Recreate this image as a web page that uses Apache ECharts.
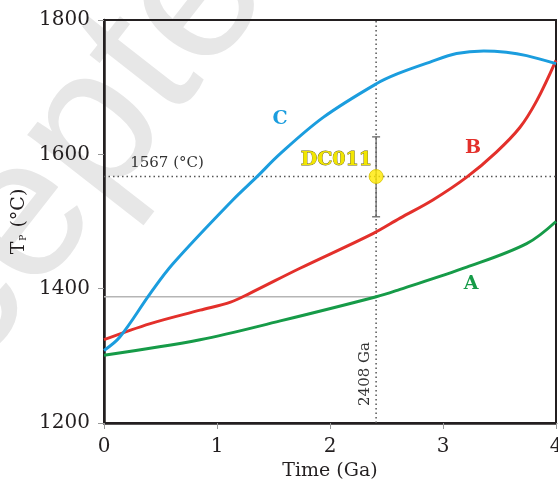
<!DOCTYPE html>
<html>
<head>
<meta charset="utf-8">
<script src="https://cdn.jsdelivr.net/npm/echarts@6/dist/echarts.min.js"></script>
<style>
html,body{margin:0;padding:0;background:#fff;}
#chart{width:558px;height:481px;}
</style>
</head>
<body>
<div id="chart"></div>
<script>
// ---- data ----
const timeA = [0, 0.85, 1.56, 2.41, 2.62, 3.21, 3.74, 4.0];
const tempA = [1301, 1324, 1352, 1388, 1399, 1432, 1467, 1500];

const timeB = [0, 0.41, 0.85, 1.12, 1.29, 1.73, 2.38, 2.62, 2.91, 3.21, 3.47, 3.68, 3.83, 4.0];
const tempB = [1324, 1348, 1368, 1380, 1393, 1430, 1482, 1505, 1532, 1566, 1603, 1640, 1680, 1740];

const timeC = [0, 0.14, 0.41, 0.61, 1.14, 1.35, 1.56, 1.94, 2.41, 2.6, 2.88, 3.12, 3.36, 3.56, 3.74, 4.0];
const tempC = [1308, 1328, 1393, 1437, 1532, 1566, 1601, 1655, 1705, 1720, 1737, 1750, 1754, 1752, 1747, 1735];

const sampleName = 'DC011';
const sampleTime = 2.408;
const sampleTemp = 1567;
const sampleTempErr = [1507, 1626];
const tempAtSampleA = 1388;

const xTicks = [0, 1, 2, 3, 4];
const yTicks = [1200, 1400, 1600, 1800];

const zip = (xs, ys) => xs.map((x, i) => [x, ys[i]]);

const serif = 'DejaVu Serif';
const ink = '#231f20';

const chart = echarts.init(document.getElementById('chart'), null, {renderer: 'canvas'});

const curveStyle = {type: 'line', smooth: 0.35, symbol: 'none', z: 3};

const option = {
  animation: false,
  backgroundColor: '#fff',
  grid: {left: 104, right: 2, top: 20, bottom: 58, show: true, borderColor: ink, borderWidth: 2,
    containLabel: false, outerBoundsMode: 'none'},
  xAxis: {
    type: 'value', min: xTicks[0], max: xTicks[xTicks.length - 1], interval: 1,
    name: 'Time (Ga)', nameLocation: 'middle', nameGap: 35,
    nameTextStyle: {fontFamily: serif, fontSize: 19, color: ink},
    axisLine: {show: true, lineStyle: {color: ink, width: 2.5}},
    axisTick: {show: true, inside: false, length: 6, lineStyle: {color: '#999', width: 1}},
    axisLabel: {fontFamily: serif, fontSize: 20, color: ink, margin: 14, formatter: v => String(v)},
    splitLine: {show: false}
  },
  yAxis: {
    type: 'value', min: yTicks[0], max: yTicks[yTicks.length - 1], interval: 200,
    name: 'T{sub|P} (°C)', nameLocation: 'middle', nameGap: 72,
    nameTextStyle: {fontFamily: serif, fontSize: 19, color: ink,
      rich: {sub: {fontFamily: serif, fontSize: 9, color: ink, verticalAlign: 'bottom', padding: [8, 1, 0, 1]}}},
    axisLine: {show: true, lineStyle: {color: ink, width: 2.5}},
    axisTick: {show: true, inside: false, length: 6, lineStyle: {color: '#999', width: 1}},
    axisLabel: {fontFamily: serif, fontSize: 20, color: ink, margin: 14, formatter: v => String(v)},
    splitLine: {show: false}
  },
  graphic: [
    {type: 'text', z: -10, x: 42, y: 198, rotation: 52 * Math.PI / 180,
      style: {text: 'Accepted', fontFamily: 'Liberation Sans', fontSize: 200, fill: '#e7e7e7', align: 'center', verticalAlign: 'middle'}},
    {type: 'text', z: 50, x: 167, y: 163, style: {text: '1567 (°C)', fontFamily: serif, fontSize: 15, fill: '#333', align: 'center', verticalAlign: 'middle'}},
    {type: 'text', z: 50, x: 365, y: 374, rotation: Math.PI / 2, style: {text: '2408 Ga', fontFamily: serif, fontSize: 15, fill: '#333', align: 'center', verticalAlign: 'middle'}},
    {type: 'text', z: 50, x: 280, y: 119, style: {text: 'C', fontFamily: serif, fontWeight: 'bold', fontSize: 19, fill: '#1B9DDE', align: 'center', verticalAlign: 'middle'}},
    {type: 'text', z: 50, x: 473, y: 148, style: {text: 'B', fontFamily: serif, fontWeight: 'bold', fontSize: 19, fill: '#E3302B', align: 'center', verticalAlign: 'middle'}},
    {type: 'text', z: 50, x: 471, y: 284, style: {text: 'A', fontFamily: serif, fontWeight: 'bold', fontSize: 19, fill: '#169B48', align: 'center', verticalAlign: 'middle'}},
    {type: 'text', z: 50, x: 372, y: 160, style: {text: sampleName, fontFamily: serif, fontWeight: 'bold', fontSize: 19, fill: '#F2E600', stroke: '#6b6420', lineWidth: 0.8, align: 'right', verticalAlign: 'middle'}}
  ],
  series: [
    {type: 'line', data: [[0, tempAtSampleA], [sampleTime, tempAtSampleA]], symbol: 'none',
      lineStyle: {color: '#b5b5b5', width: 1.5}, z: 1, silent: true},
    {type: 'line', data: [[sampleTime, yTicks[0]], [sampleTime, yTicks[yTicks.length - 1]]], symbol: 'none',
      lineStyle: {color: '#555', width: 1.5, type: [1.5, 3]}, z: 1, silent: true},
    {type: 'line', data: [[0, sampleTemp], [xTicks[xTicks.length - 1], sampleTemp]], symbol: 'none',
      lineStyle: {color: '#555', width: 1.5, type: [1.5, 3]}, z: 1, silent: true},
    Object.assign({name: 'A', data: zip(timeA, tempA), lineStyle: {color: '#169B48', width: 3}}, curveStyle),
    Object.assign({name: 'B', data: zip(timeB, tempB), lineStyle: {color: '#E3302B', width: 3}}, curveStyle),
    Object.assign({name: 'C', data: zip(timeC, tempC), lineStyle: {color: '#1B9DDE', width: 3}}, curveStyle),
    {type: 'custom', z: 4, data: [[sampleTime, sampleTempErr[0], sampleTempErr[1]]],
      renderItem: function (params, api) {
        const lo = api.coord([api.value(0), api.value(1)]);
        const hi = api.coord([api.value(0), api.value(2)]);
        const w = 4;
        const st = {stroke: '#666', lineWidth: 1.3};
        return {type: 'group', children: [
          {type: 'line', shape: {x1: lo[0], y1: lo[1], x2: hi[0], y2: hi[1]}, style: st},
          {type: 'line', shape: {x1: lo[0] - w, y1: lo[1], x2: lo[0] + w, y2: lo[1]}, style: st},
          {type: 'line', shape: {x1: hi[0] - w, y1: hi[1], x2: hi[0] + w, y2: hi[1]}, style: st}
        ]};
      }},
    {type: 'scatter', name: sampleName, data: [[sampleTime, sampleTemp]], symbolSize: 14, z: 5,
      itemStyle: {color: '#FFE800', borderColor: '#d8c400', borderWidth: 1}}
  ]
};
chart.setOption(option);
</script>
</body>
</html>
